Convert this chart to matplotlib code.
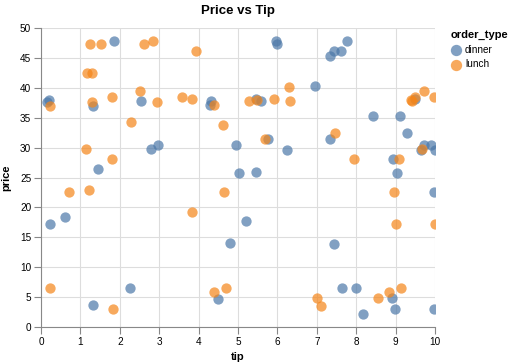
import matplotlib.pyplot as plt
import numpy as np

plt.rcParams['font.family'] = ['Liberation Sans', 'DejaVu Sans']

# dinner orders: tip, price
dinner_tip = [0.16, 0.21, 0.23, 0.60, 1.33, 1.45, 1.85, 2.53, 2.78, 2.97,
              1.31, 2.26, 5.96, 5.99, 4.31, 4.29, 5.45, 5.58, 5.77, 4.95,
              6.24, 5.03, 5.46, 5.21, 4.80, 4.48, 7.76, 7.61, 7.44, 7.33,
              6.96, 9.49, 8.43, 9.12, 7.33, 9.29, 9.72, 9.91, 9.64, 10.0,
              8.94, 9.04, 9.98, 7.44, 7.65, 8.00, 8.92, 8.98, 8.18, 9.97]
dinner_price = [37.6, 37.9, 17.2, 18.4, 37.0, 26.4, 47.8, 37.8, 29.8, 30.4,
                3.6, 6.5, 47.8, 47.4, 37.8, 37.2, 38.1, 37.8, 31.5, 30.4,
                29.6, 25.8, 25.9, 17.8, 14.0, 4.6, 47.8, 46.2, 46.2, 45.4,
                40.3, 38.2, 35.3, 35.3, 31.5, 32.5, 30.4, 30.4, 29.6, 29.6,
                28.1, 25.8, 22.5, 13.8, 6.6, 6.6, 4.8, 3.0, 2.1, 3.0]

# lunch orders: tip, price
lunch_tip = [1.24, 1.52, 2.61, 2.85, 1.18, 1.29, 0.23, 1.29, 1.81, 2.50,
             2.94, 2.28, 1.13, 1.80, 0.70, 1.23, 0.22, 1.84, 3.93, 3.59,
             3.83, 4.39, 5.27, 5.47, 5.92, 6.33, 6.30, 4.63, 5.69, 9.72,
             9.97, 9.38, 9.42, 9.50, 7.46, 7.94, 9.09, 9.67, 8.96, 9.01,
             9.99, 7.00, 7.11, 8.56, 8.83, 9.14, 4.65, 3.83, 4.70, 4.40]
lunch_price = [47.3, 47.4, 47.3, 47.8, 42.4, 42.4, 37.0, 37.7, 38.4, 39.4,
               37.7, 34.2, 29.8, 28.1, 22.5, 22.9, 6.6, 3.0, 46.2, 38.4,
               38.1, 37.2, 37.8, 38.0, 38.1, 37.8, 40.2, 33.8, 31.5, 39.4,
               38.4, 37.9, 37.8, 38.4, 32.5, 28.1, 28.1, 29.8, 22.5, 17.2,
               17.2, 4.8, 3.5, 4.8, 5.9, 6.6, 22.5, 19.2, 6.6, 5.9]

fig = plt.figure(figsize=(5.19, 3.64), dpi=100)
ax = fig.add_axes([41 / 519, 1 - 327 / 364, 394 / 519, 299 / 364])

ax.scatter(dinner_tip, dinner_price, s=55, color='#4c78a8', alpha=0.7,
           linewidths=0, label='dinner', zorder=3)
ax.scatter(lunch_tip, lunch_price, s=55, color='#f58518', alpha=0.7,
           linewidths=0, label='lunch', zorder=3)

ax.set_xlim(0, 10)
ax.set_ylim(0, 50)
ax.set_xticks(np.arange(0, 11, 1))
ax.set_yticks(np.arange(0, 51, 5))
ax.grid(True, color='#dddddd', linewidth=0.8, zorder=0)
ax.set_axisbelow(True)

for side in ['top', 'right']:
    ax.spines[side].set_visible(False)
for side in ['left', 'bottom']:
    ax.spines[side].set_color('#888888')
ax.tick_params(colors='#888888', labelcolor='black', labelsize=7.2,
               length=5, width=0.8, pad=2)

ax.set_xlabel('tip', fontsize=8, fontweight='bold', labelpad=4)
ax.set_ylabel('price', fontsize=8, fontweight='bold', labelpad=6)
ax.set_title('Price vs Tip', fontsize=9.5, fontweight='bold', pad=10)

leg = ax.legend(title='order_type', loc='upper left', bbox_to_anchor=(1.02, 1.02),
                frameon=False, fontsize=7.2, title_fontproperties={'weight': 'bold', 'size': 8},
                handletextpad=0.4, labelspacing=0.45, alignment='left',
                markerscale=1.1, handlelength=1.0, borderpad=0.3)

fig.savefig('out.png', dpi=100)
